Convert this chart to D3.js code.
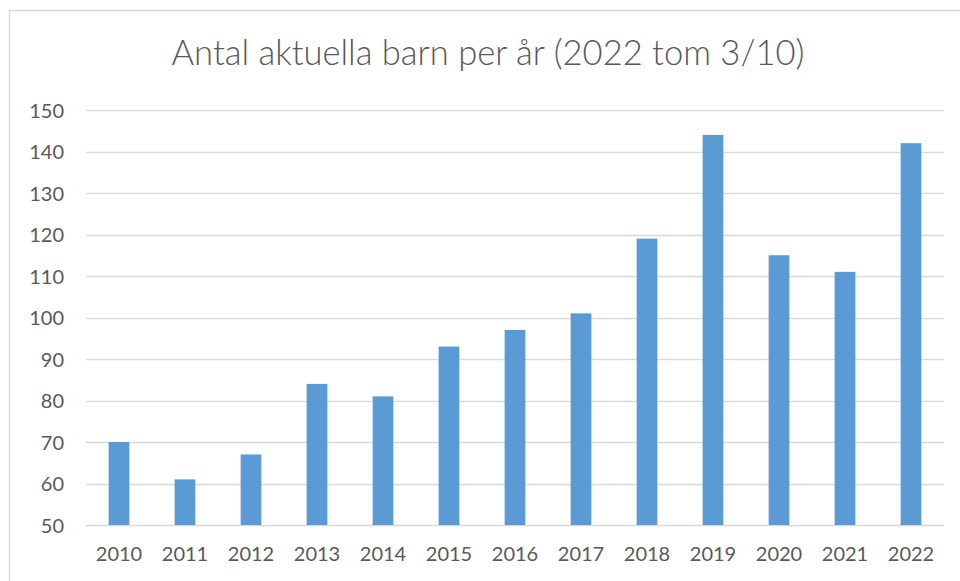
<!DOCTYPE html>
<html>
<head>
<meta charset="utf-8">
<script src="https://cdn.jsdelivr.net/npm/d3@7"></script>
<style>
  html, body { margin: 0; padding: 0; background: #fff; }
  svg { display: block; }
  text { font-family: Lato, "Open Sans", sans-serif; fill: #595959; }
</style>
</head>
<body>
<svg id="chart" width="960" height="581"></svg>
<script>
const title = "Antal aktuella barn per år (2022 tom 3/10)";
const years = ["2010","2011","2012","2013","2014","2015","2016","2017","2018","2019","2020","2021","2022"];
const counts = [70, 61, 67, 84, 81, 93, 97, 101, 119, 144, 115, 111, 142];
const yTicks = [50, 60, 70, 80, 90, 100, 110, 120, 130, 140, 150];

const svg = d3.select("#chart");
const plot = { left: 86, right: 944, top: 110, bottom: 525 };

// chart area border
svg.append("rect")
  .attr("x", 9.5).attr("y", 10.5)
  .attr("width", 960).attr("height", 600)
  .attr("fill", "#fff")
  .attr("stroke", "#d9d9d9").attr("stroke-width", 1.5);

const x = d3.scaleBand()
  .domain(years)
  .range([plot.left, plot.right])
  .paddingInner(0.686)
  .paddingOuter(0.343);

const y = d3.scaleLinear()
  .domain([50, 150])
  .range([plot.bottom, plot.top]);

// gridlines
svg.append("g")
  .selectAll("line")
  .data(yTicks)
  .join("line")
  .attr("x1", plot.left).attr("x2", plot.right)
  .attr("y1", d => Math.round(y(d)) + 0.5)
  .attr("y2", d => Math.round(y(d)) + 0.5)
  .attr("stroke", "#d9d9d9").attr("stroke-width", 1.5);

// y axis labels
const yAxis = d3.axisLeft(y).tickValues(yTicks).tickSize(0).tickPadding(22);
const gy = svg.append("g").attr("transform", `translate(${plot.left},0)`).call(yAxis);
gy.select(".domain").remove();
gy.selectAll("text")
  .style("font-size", "20px")
  .attr("fill", "#595959")
  .attr("dy", "0.35em");

// bars
svg.append("g")
  .selectAll("rect")
  .data(years.map((yr, i) => ({ yr, v: counts[i] })))
  .join("rect")
  .attr("x", d => x(d.yr))
  .attr("width", x.bandwidth())
  .attr("y", d => y(d.v))
  .attr("height", d => y(50) - y(d.v))
  .attr("fill", "#5b9bd5");

// x axis labels
const xAxis = d3.axisBottom(x).tickSize(0).tickPadding(22);
const gx = svg.append("g").attr("transform", `translate(0,${plot.bottom})`).call(xAxis);
gx.select(".domain").remove();
gx.selectAll("text")
  .style("font-size", "20px")
  .attr("fill", "#595959");

// title
const t = svg.append("text")
  .attr("x", 488).attr("y", 65)
  .attr("text-anchor", "middle")
  .style("font-size", "32px")
  .style("font-weight", "300")
  .text(title);
const targetW = 633;
const w = t.node().getComputedTextLength();
if (w > 0) t.style("font-size", (32 * targetW / w).toFixed(2) + "px");
</script>
</body>
</html>
